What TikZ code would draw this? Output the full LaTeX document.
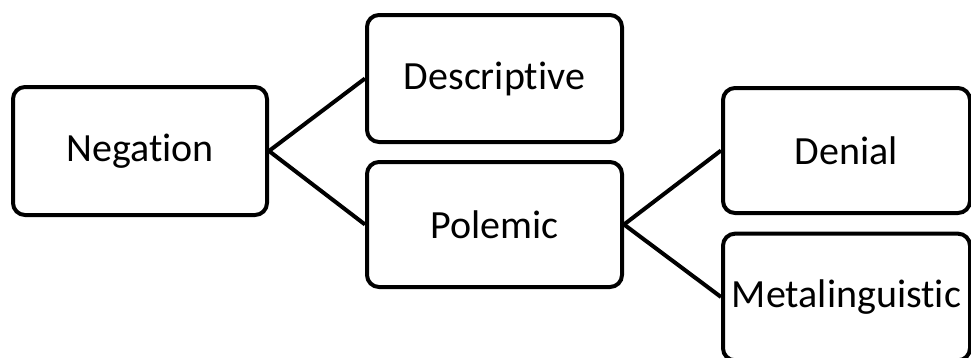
\documentclass[tikz,border=0pt]{standalone}
\usepackage{fontspec}
\setmainfont{Carlito}[Ligatures=NoCommon,RawFeature=-liga]
\begin{document}
\begin{tikzpicture}[x=0.75pt,y=-0.75pt,
  box/.style={draw=black, line width=3pt, rounded corners=9pt, inner sep=0pt,
    align=center, font=\fontsize{30}{36}\selectfont, fill=white},
  link/.style={draw=black, line width=3pt}]
\path[use as bounding box] (0,0) rectangle (971,357);
\clip (0,0) rectangle (971,357);
\node[box, minimum width=190.5pt, minimum height=96pt] (neg) at (140,151) {Negation};
\node[box, minimum width=191.25pt, minimum height=95.25pt] (desc) at (494.5,78.5) {Descriptive};
\node[box, minimum width=191.25pt, minimum height=93.75pt] (pol) at (494.5,224.5) {Polemic};
\node[box, minimum width=185.25pt, minimum height=93.75pt] (den) at (846.5,150.5) {Denial};
\node[box, minimum width=185.25pt, minimum height=95pt] (meta) at (846.5,297) {Metalinguistic};
\draw[link] (neg.east) -- (desc.west);
\draw[link] (neg.east) -- (pol.west);
\draw[link] (pol.east) -- (den.west);
\draw[link] (pol.east) -- (meta.west);
\end{tikzpicture}
\end{document}
